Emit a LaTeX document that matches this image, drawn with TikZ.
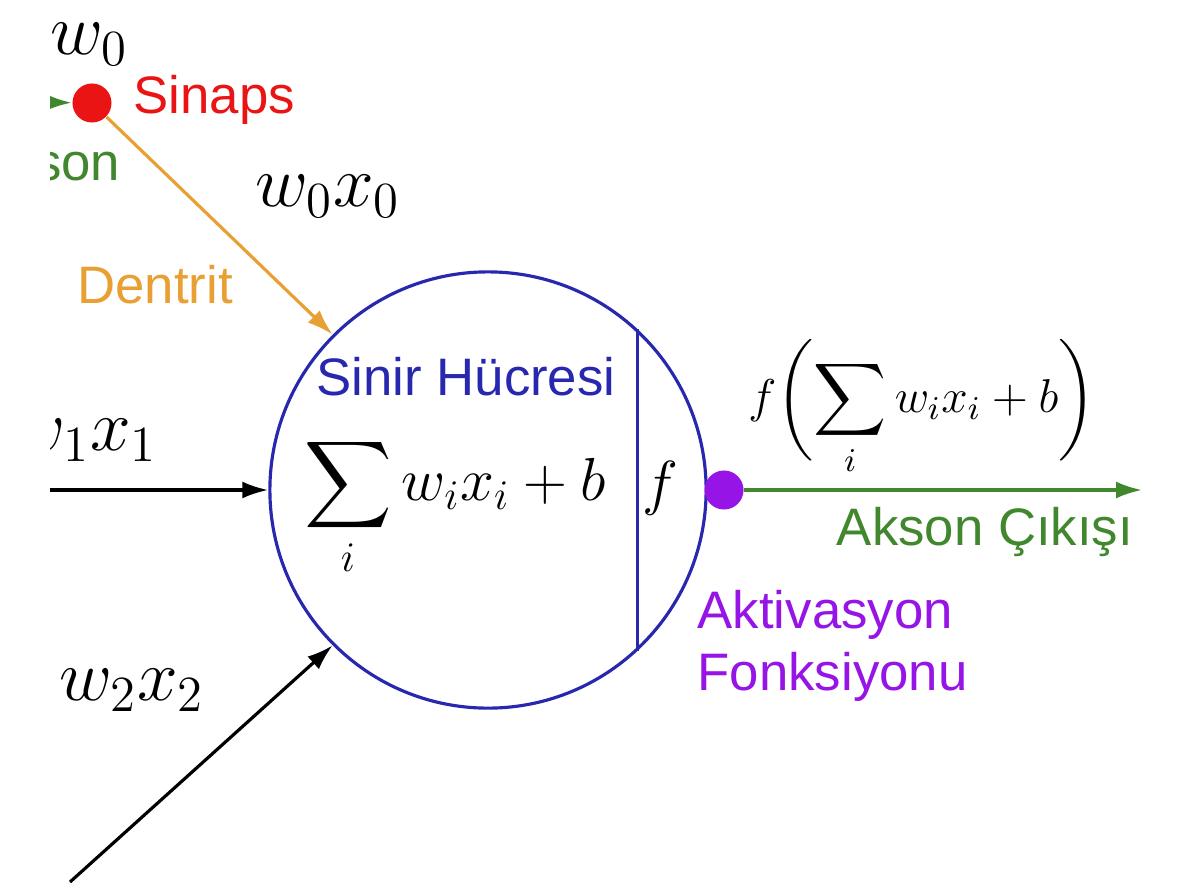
\documentclass[tikz,border=0pt]{standalone}
\usepackage{fix-cm}
\usepackage{amsmath}
\usepackage{fontspec}
\setsansfont{Liberation Sans}
\usepackage{tikz}
\usetikzlibrary{arrows, arrows.meta, positioning}
\definecolor{cellblue}{RGB}{40, 40, 175}
\definecolor{synred}{RGB}{235, 20, 20}
\definecolor{axongreen}{RGB}{65, 135, 45}
\definecolor{dendorange}{RGB}{232, 160, 50}
\definecolor{actpurple}{RGB}{150, 20, 230}

\begin{document}
\begin{tikzpicture}[
    x=0.01cm, y=-0.01cm,
    lbl/.style={font=\sffamily\fontsize{15}{17.5}\selectfont, inner sep=0pt},
    mathlbl/.style={font=\LARGE, inner sep=0pt},
    wxlbl/.style={font=\huge, inner sep=0pt},
    dot/.style={circle, inner sep=0pt, minimum size=0.39cm},
    arrow/.style={-{Latex[length=2.6mm, width=1.7mm]}, line width=0.9pt}
]
    \fill[white] (0,0) rectangle (1180,894);
    \clip (50,0) rectangle (1180,894);

    % Cell body
    \node[circle, draw=cellblue, line width=0.9pt, minimum size=4.36cm, inner sep=0pt] (cell) at (488,490) {};
    \draw[cellblue, line width=0.9pt] (cell.47) -- (cell.-47);
    \node[lbl, text=cellblue] (celltxt) at (466,377) {Sinir Hücresi};
    \node[mathlbl] (sum) at (455,507) {$\displaystyle\sum_i w_i x_i + b$};
    \node[mathlbl] (fcell) at (660,488) {$f$};

    % Synapse
    \node[dot, fill=synred] (synapse) at (92,103) {};
    \coordinate (axonin) at (-60,101);
    \node[lbl, text=synred, anchor=west] (syntxt) at (133,100) {Sinaps};
    \node[lbl, text=axongreen, anchor=east] (axontxt) at (121,162) {Akson};
    \node[wxlbl, anchor=west] (w0) at (50,44) {$w_0$};
    \node[wxlbl] (w0x0) at (328,196) {$w_0 x_0$};
    \node[lbl, text=dendorange] (dendtxt) at (155,285) {Dentrit};

    % Inputs
    \coordinate (in1) at (40,490);
    \coordinate (in2) at (70,882);
    \node[wxlbl, anchor=east] (w1x1) at (158,440) {$w_1 x_1$};
    \node[wxlbl] (w2x2) at (132,690) {$w_2 x_2$};

    % Activation and output
    \node[dot, fill=actpurple] (actdot) at (724,490) {};
    \coordinate (outend) at (1142,490);
    \node[font=\fontsize{13.5}{16}\selectfont, inner sep=0pt] (fout) at (922,408) {$\displaystyle f\biggl(\sum_i w_i x_i + b\biggr)$};
    \node[lbl, text=axongreen] (outtxt) at (985,532) {Akson Çıkışı};
    \node[lbl, text=actpurple, anchor=north west, align=left] (acttxt) at (697,590) {Aktivasyon\\Fonksiyonu};

    % Arrows
    \draw[arrow, axongreen] (axonin) -- (synapse);
    \draw[arrow, dendorange] (synapse) -- (cell.135);
    \draw[arrow] (in1) -- (cell.west);
    \draw[arrow] (in2) -- (cell.225);
    \draw[arrow, axongreen] (actdot) -- (outend);
\end{tikzpicture}
\end{document}
